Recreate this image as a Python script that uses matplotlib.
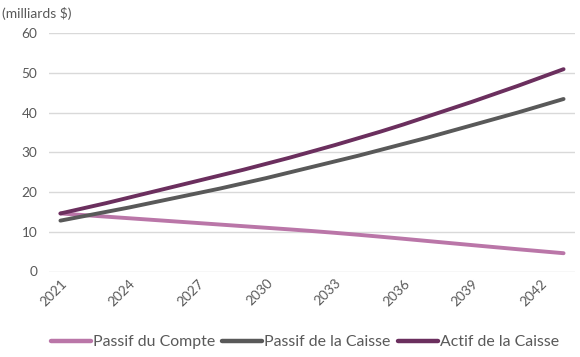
import matplotlib
matplotlib.use("Agg")
import matplotlib.pyplot as plt
import numpy as np

plt.rcParams['font.family'] = ['Lato', 'DejaVu Sans']

years = list(range(2021, 2044))
passif_compte = [14.6, 14.2, 13.8, 13.4, 13.0, 12.6, 12.2, 11.8, 11.4, 11.0, 10.6, 10.18,
                 9.73, 9.25, 8.75, 8.23, 7.7, 7.17, 6.64, 6.12, 5.6, 5.1, 4.6]
passif_caisse = [12.8, 13.9, 15.0, 16.1, 17.3, 18.5, 19.7, 20.9, 22.2, 23.5, 24.9, 26.3,
                 27.7, 29.1, 30.6, 32.1, 33.6, 35.2, 36.8, 38.4, 40.0, 41.7, 43.4]
actif_caisse = [14.6, 15.9, 17.2, 18.6, 20.0, 21.4, 22.8, 24.2, 25.6, 27.1, 28.6, 30.2,
                31.8, 33.5, 35.2, 37.0, 38.9, 40.8, 42.7, 44.7, 46.7, 48.8, 50.9]
series_names = ["Passif du Compte", "Passif de la Caisse", "Actif de la Caisse"]
colors = ["#BA76A8", "#595959", "#6B2F5E"]
yticks = [0, 10, 20, 30, 40, 50, 60]

fig = plt.figure(figsize=(5.8, 3.57), dpi=100)
ax = fig.add_axes([49/580, 1-271.5/357, (575-49)/580, (271.5-33)/357])

x = np.arange(len(years))
for vals, name, c in zip([passif_compte, passif_caisse, actif_caisse], series_names, colors):
    ax.plot(x, vals, color=c, lw=2.8, solid_capstyle='round', label=name, zorder=3)

ax.set_xlim(-0.5, len(years) - 0.5)
ax.set_ylim(0, 60)
ax.set_yticks(yticks)
ax.set_yticklabels([str(v) for v in yticks])
ax.set_xticks(x[::3])
ax.set_xticklabels([str(y) for y in years[::3]], rotation=45, ha='right',
                   rotation_mode='anchor')
ax.grid(axis='y', color='#D9D9D9', lw=1)
ax.set_axisbelow(True)
for s in ax.spines.values():
    s.set_visible(False)
ax.tick_params(axis='both', length=0, colors='#595959', labelsize=9.8)
ax.tick_params(axis='y', pad=8.5)
ax.tick_params(axis='x', pad=4)

fig.text(2/580, 1-13/357, "(milliards $)", color='#595959', fontsize=10, va='center', ha='left')

leg = fig.legend(loc='center', bbox_to_anchor=(0.526, 1-342/357), ncol=3, frameon=False,
                 fontsize=11.4, handlelength=2.5, handletextpad=0.15, columnspacing=0.45)
for t in leg.get_texts():
    t.set_color('#595959')
for l in leg.get_lines():
    l.set_linewidth(3.2)

fig.savefig("out.png", dpi=100, facecolor='white')
